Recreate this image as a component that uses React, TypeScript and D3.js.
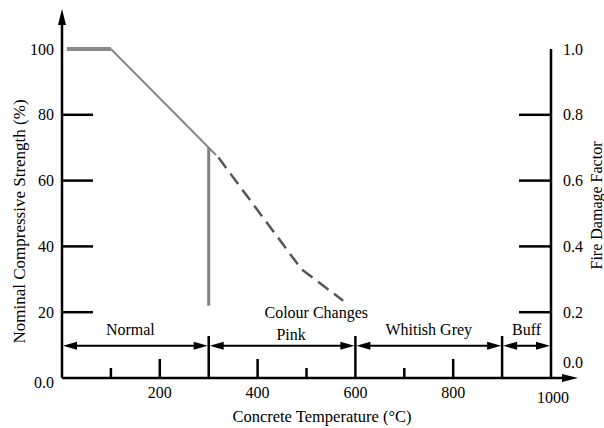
import * as d3 from 'd3';

// temperature axis (°C)
const xLabels = [200, 400, 600, 800, 1000];
const majorTicks = [200, 400, 800];
const minorTicks = [100, 500, 700];
const zoneBounds = [300, 600, 900];

// strength axis (%) and fire damage factor
const leftTicks = [20, 40, 60, 80];
const leftLabels = ['100', '80', '60', '40', '20'];
const leftLabelValues = [100, 80, 60, 40, 20];
const rightTicks = [0.8, 0.6, 0.4, 0.2];
const rightLabels = ['1.0', '0.8', '0.6', '0.4', '0.2'];
const rightLabelValues = [1.0, 0.8, 0.6, 0.4, 0.2];

// colour zones
const zoneNames = ['Normal', 'Pink', 'Whitish Grey', 'Buff'];
const zoneFrom = [0, 300, 600, 900];
const zoneTo = [300, 600, 900, 1000];

// strength curve
const plateau: [number, number][] = [[10, 100], [100, 100]];
const decline: [number, number][] = [[100, 100], [315, 67.8]];
const declineDashed: [number, number][] = [[320, 67], [490, 33], [575, 23.5]];
const transitionTemp = 300;
const transitionRange = [70, 22];

const W = 604;
const H = 428;
const FONT = '"Liberation Serif", "DejaVu Serif", serif';

export default function App() {
  const x = d3.scaleLinear().domain([0, 1000]).range([62, 551]);
  const y = d3.scaleLinear().domain([0, 100]).range([378, 49]);
  const yr = d3.scaleLinear().domain([0, 1]).range([378, 49]);

  const line = d3.line<[number, number]>()
    .x(d => x(d[0]))
    .y(d => y(d[1]));

  const x0 = x(0);
  const x1 = x(1000);
  const y0 = y(0);
  const arrowY = y(9.8);

  const arrowHead = (tipX: number, tipY: number, dir: number) => {
    // dir: 1 = points right, -1 = points left
    const len = 14;
    const hw = 4;
    return `M${tipX},${tipY} L${tipX - dir * len},${tipY - hw} L${tipX - dir * len},${tipY + hw} Z`;
  };

  return (
    <svg
      width={W}
      height={H}
      viewBox={`0 0 ${W} ${H}`}
      style={{ position: 'absolute', left: 0, top: 0, background: '#fff' }}
      fontFamily={FONT}
    >
      {/* strength curve */}
      <path d={line(plateau) as string} stroke="#888" strokeWidth={4} fill="none" />
      <path d={line(decline) as string} stroke="#888" strokeWidth={2} fill="none" />
      <path
        d={line(declineDashed) as string}
        stroke="#555"
        strokeWidth={2.5}
        strokeDasharray="13,7"
        fill="none"
      />
      <line
        x1={x(transitionTemp)}
        x2={x(transitionTemp)}
        y1={y(transitionRange[0])}
        y2={y(transitionRange[1])}
        stroke="#808080"
        strokeWidth={3}
      />

      {/* left axis */}
      <line x1={x0} x2={x0} y1={y0} y2={22} stroke="#000" strokeWidth={2.5} />
      <path d={`M${x0},9 L${x0 - 4},25 L${x0 + 4},25 Z`} fill="#000" />
      {leftTicks.map(t => (
        <line key={t} x1={x0} x2={x0 + 31} y1={y(t)} y2={y(t)} stroke="#000" strokeWidth={2.5} />
      ))}
      {leftLabels.map((l, i) => (
        <text key={l} x={54} y={y(leftLabelValues[i])} dy="0.35em" textAnchor="end" fontSize={16}>
          {l}
        </text>
      ))}
      <text x={54} y={y0 + 4} dy="0.35em" textAnchor="end" fontSize={16}>0.0</text>

      {/* right axis */}
      <line x1={x1} x2={x1} y1={y0} y2={yr(1)} stroke="#000" strokeWidth={2.5} />
      {rightTicks.map(t => (
        <line key={t} x1={x1 - 32} x2={x1} y1={yr(t)} y2={yr(t)} stroke="#000" strokeWidth={2.5} />
      ))}
      {rightLabels.map((l, i) => (
        <text key={l} x={563} y={yr(rightLabelValues[i])} dy="0.35em" fontSize={16}>
          {l}
        </text>
      ))}
      <text x={563} y={y0 - 16} dy="0.35em" fontSize={16}>0.0</text>

      {/* bottom axis */}
      <line x1={x0} x2={566} y1={y0} y2={y0} stroke="#000" strokeWidth={2.5} />
      <path d={`M578,${y0} L562,${y0 - 4} L562,${y0 + 4} Z`} fill="#000" />
      {majorTicks.map(t => (
        <line key={t} x1={x(t)} x2={x(t)} y1={y0} y2={y0 - 19} stroke="#000" strokeWidth={2.5} />
      ))}
      {minorTicks.map(t => (
        <line key={t} x1={x(t)} x2={x(t)} y1={y0} y2={y0 - 10} stroke="#000" strokeWidth={2.5} />
      ))}
      {zoneBounds.map(t => (
        <line key={t} x1={x(t)} x2={x(t)} y1={y0} y2={y0 - 42} stroke="#000" strokeWidth={2.5} />
      ))}
      {xLabels.map(t => (
        <text
          key={t}
          x={x(t) + (t === 1000 ? 2 : 0)}
          y={y0 + (t === 1000 ? 19 : 14)}
          dy="0.35em"
          textAnchor="middle"
          fontSize={16}
        >
          {t}
        </text>
      ))}

      {/* colour zones */}
      {zoneNames.map((n, i) => {
        const a = x(zoneFrom[i]) + 1;
        const b = x(zoneTo[i]) - 1;
        return (
          <g key={n}>
            <line x1={a + 6} x2={b - 6} y1={arrowY} y2={arrowY} stroke="#000" strokeWidth={2.2} />
            <path d={arrowHead(a, arrowY, -1)} fill="#000" />
            <path d={arrowHead(b, arrowY, 1)} fill="#000" />
            <text
              x={(x(zoneFrom[i]) + x(zoneTo[i])) / 2 - (n === 'Normal' ? 5 : 0) + (n === 'Pink' ? 9 : 0)}
              y={arrowY - (n === 'Pink' ? 11 : 16)}
              dy="0.35em"
              textAnchor="middle"
              fontSize={16}
            >
              {n}
            </text>
          </g>
        );
      })}
      <text x={x(520)} y={y(20)} dy="0.35em" textAnchor="middle" fontSize={16}>Colour Changes</text>

      {/* axis titles */}
      <text x={322} y={416} dy="0.35em" textAnchor="middle" fontSize={16.5}>
        Concrete Temperature (°C)
      </text>
      <text
        transform={`translate(19,${(y0 + y(100)) / 2 + 8}) rotate(-90)`}
        dy="0.35em"
        textAnchor="middle"
        fontSize={17}
      >
        Nominal Compressive Strength (%)
      </text>
      <text
        transform={`translate(596,${(yr(0.8) + yr(0.2)) / 2 - 8}) rotate(-90)`}
        dy="0.35em"
        textAnchor="middle"
        fontSize={16}
      >
        Fire Damage Factor
      </text>
    </svg>
  );
}
